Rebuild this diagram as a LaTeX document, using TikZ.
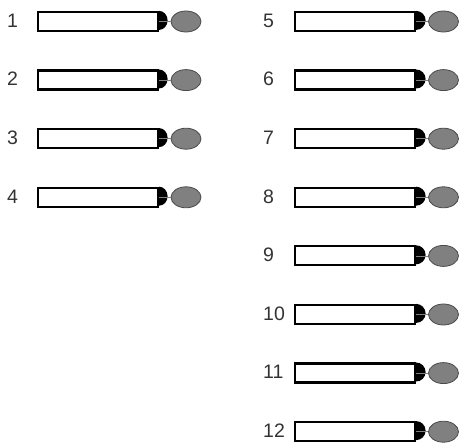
\documentclass[tikz,border=0pt]{standalone}
\usepackage{fontspec}
\setmainfont{Liberation Sans}
\usetikzlibrary{shapes.geometric}
\definecolor{lblgray}{HTML}{333333}
\definecolor{ovalfill}{HTML}{808080}
\definecolor{ovaldraw}{HTML}{4A4A4A}
\begin{document}
\begin{tikzpicture}[
  bar/.style={draw=black, line width=2.2pt, fill=white, minimum width=120pt, minimum height=19pt, inner sep=0pt, rectangle},
  oval/.style={ellipse, draw=ovaldraw, line width=0.8pt, fill=ovalfill, minimum width=30pt, minimum height=21pt, inner sep=0pt},
  numlabel/.style={anchor=west, inner sep=0pt, text=lblgray, font=\fontsize{19.5pt}{19.5pt}\selectfont},
  link/.style={draw=ovalfill, line width=0.6pt}
]
\useasboundingbox (0pt,0pt) rectangle (459pt,-444pt);
% left column: rows 1-4
\foreach \i in {1,...,4} {
  \pgfmathsetmacro{\yy}{-21.5-58.6*(\i-1)}
  \node[bar] (r\i) at (98pt,\yy pt) {};
  \fill (r\i.north east) arc[start angle=90, end angle=-90, x radius=8.5pt, y radius=9.5pt] -- cycle;
  \node[oval] (e\i) at (186pt,\yy pt) {};
  \draw[link] (r\i.east) -- (e\i.west);
  \node[numlabel] (l\i) at (7pt,\yy pt+1pt) {\i};
}
% right column: rows 5-12
\foreach \i in {5,...,12} {
  \pgfmathsetmacro{\yy}{-21.5-58.6*(\i-5)}
  \node[bar] (r\i) at (355pt,\yy pt) {};
  \fill (r\i.north east) arc[start angle=90, end angle=-90, x radius=9.5pt, y radius=9.5pt] -- cycle;
  \node[oval] (e\i) at (443.5pt,\yy pt) {};
  \draw[link] (r\i.east) -- (e\i.west);
  \node[numlabel] (l\i) at (263pt,\yy pt+1pt) {\i};
}
\end{tikzpicture}
\end{document}
